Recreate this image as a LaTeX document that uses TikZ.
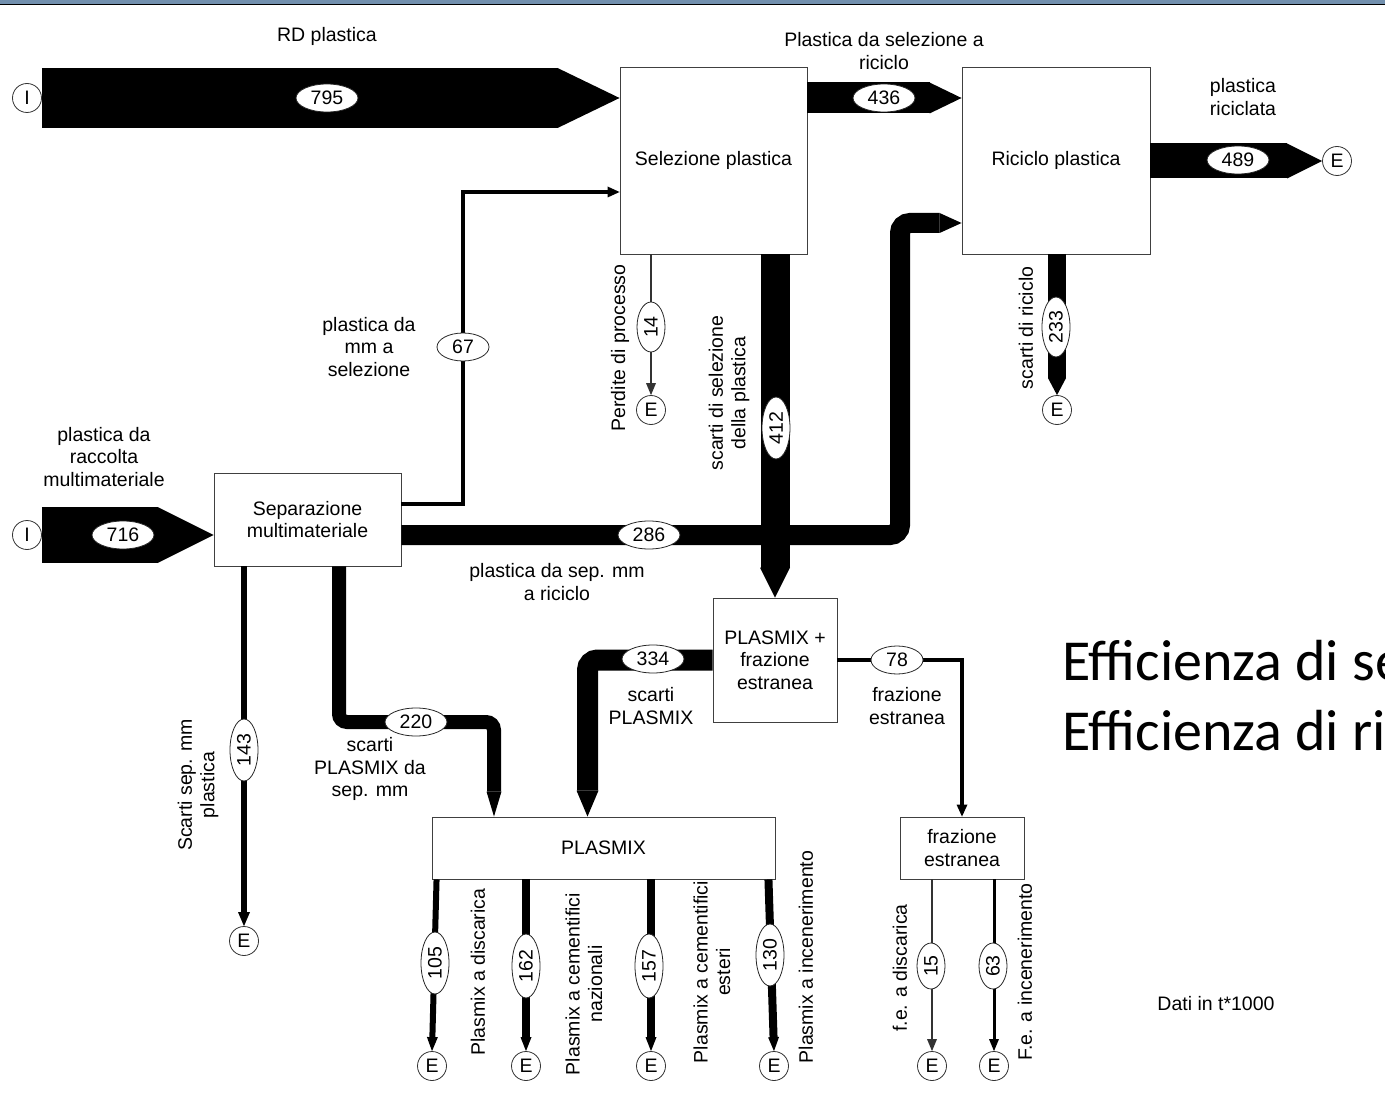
\documentclass[tikz,border=0pt]{standalone}
\usepackage{fontspec}
\setmainfont{Liberation Sans}
\newfontfamily\calibri{Carlito}
\usetikzlibrary{arrows.meta,shapes.geometric,calc}
\definecolor{barblue}{RGB}{114,144,174}
\begin{document}
\begin{tikzpicture}[x=1pt,y=-1pt,
  every node/.style={font=\fontsize{19.5}{22.5}\selectfont, align=center, inner sep=0pt},
  box/.style 2 args={draw=black!75, line width=0.9pt, fill=white, minimum width=#1, minimum height=#2},
  val/.style={ellipse, draw=black!85, line width=0.8pt, fill=white, minimum width=#1, minimum height=28pt},
  val/.default=62pt,
  vval/.style={val=#1, rotate=90},
  term/.style={circle, draw=black!80, line width=0.8pt, fill=white, minimum size=29pt},
  rl/.style={rotate=90},
  hd/.style 2 args={-{Triangle[length=#1,width=#2,line width=0pt]}},
  thinflow/.style={line width=1.2pt, draw=black!80},
  flow/.style={draw=black, line join=miter}
]
\useasboundingbox (0,0) rectangle (1385,1110);
\clip (0,0) rectangle (1385,1110);
\fill[white] (0,0) rectangle (1385,1110);
% top bar
\fill[barblue] (0,0) rectangle (1385,4);
\draw[line width=1.6pt] (0,4.6) -- (1385,4.6);

% boxes
\node[box={187pt}{187pt}] (sel) at (713.5,160.5) {Selezione plastica};
\node[box={188pt}{187pt}] (ric) at (1056,160.5) {Riciclo plastica};
\node[box={187pt}{93pt}] (sep) at (307.5,519.5) {Separazione\\multimateriale};
\node[box={124pt}{124pt}] (plus) at (775,660) {PLASMIX +\\frazione\\estranea};
\node[box={343pt}{62pt}] (pl) at (603.5,848) {PLASMIX};
\node[box={124pt}{62pt}] (fe) at (962,848) {frazione\\estranea};

% terminals
\node[term] (I1) at (27,98) {I};
\node[term] (I2) at (27,535) {I};
\node[term] (E1) at (1337,161) {E};
\node[term] (E2) at (651,410) {E};
\node[term] (E3) at (1057,410) {E};
\node[term] (E4) at (244,941) {E};
\node[term] (E5) at (432,1066) {E};
\node[term] (E6) at (526,1066) {E};
\node[term] (E7) at (651,1066) {E};
\node[term] (E8) at (774,1066) {E};
\node[term] (E9) at (932,1066) {E};
\node[term] (E10) at (994,1066) {E};

% flows
\draw[flow, line width=60pt, hd={62pt}{60pt}] (I1.east) -- (I1 -| sel.west);
\draw[flow, line width=56pt, hd={56pt}{56pt}] (I2.east) -- (I2 -| sep.west);
\draw[flow, line width=31pt, hd={32pt}{31pt}] (I1 -| sel.east) -- (I1 -| ric.west);
\draw[flow, line width=35pt, hd={35pt}{35pt}] (ric.east |- E1) -- (E1.west);
\draw[thinflow, hd={12pt}{10pt}] (E2 |- sel.south) -- (E2.north);
\draw[flow, line width=29pt, hd={30pt}{30pt}] (plus.north |- sel.south) -- (plus.north);
\draw[flow, line width=18pt, hd={17pt}{18pt}] (E3 |- ric.south) -- (E3.north);
\coordinate (k67) at (463,192);
\draw[flow, line width=3.5pt, hd={12pt}{11pt}] ([yshift=15.5pt]sep.east) -| (k67) -- (k67 -| sel.west);
\coordinate (k286) at (900,223);
\draw[flow, line width=20pt, rounded corners=10pt, hd={22pt}{20pt}] ([yshift=-15.5pt]sep.east) -| (k286) -- (k286 -| ric.west);
\draw[flow, line width=6pt, hd={14pt}{12pt}] (E4 |- sep.south) -- (E4.north);
\coordinate (k220a) at (339,722);
\coordinate (k220b) at (494,722);
\draw[flow, line width=14pt, rounded corners=8pt, hd={25pt}{15pt}] (k220a |- sep.south) -- (k220a) -- (k220b) -- (k220b |- pl.north);
\coordinate (k334) at (587.5,660);
\draw[flow, line width=21pt, rounded corners=10pt, hd={26pt}{22pt}] (plus.west) -- (k334) -- (k334 |- pl.north);
\draw[flow, line width=3.5pt, hd={12pt}{11pt}] (plus.east) -| (fe.north);
\draw[flow, line width=6pt, hd={14pt}{11pt}] ($(pl.south west)+(5,0)$) -- (E5.north);
\draw[flow, line width=8pt, hd={14pt}{11pt}] (E6 |- pl.south) -- (E6.north);
\draw[flow, line width=8pt, hd={14pt}{11pt}] (E7 |- pl.south) -- (E7.north);
\draw[flow, line width=8pt, hd={14pt}{11pt}] ($(pl.south east)+(-7,0)$) -- (E8.north);
\draw[thinflow, hd={12pt}{10pt}] (E9 |- fe.south) -- (E9.north);
\draw[flow, line width=3pt, hd={12pt}{10pt}] (E10 |- fe.south) -- (E10.north);

% values
\node[val] (v795) at (327,98) {795};
\node[val] (v436) at (884,98) {436};
\node[val] (v489) at (1238,160) {489};
\node[vval=50pt] (v14) at (651,327) {14};
\node[vval=62pt] (v412) at (776,428) {412};
\node[vval=60pt] (v233) at (1056,327) {233};
\node[val=52pt] (v67) at (463,347) {67};
\node[val] (v716) at (123,535) {716};
\node[val] (v286) at (649,535) {286};
\node[vval=62pt] (v143) at (244,750) {143};
\node[val] (v220) at (416,722) {220};
\node[val] (v334) at (653,659) {334};
\node[val=52pt] (v78) at (897,660) {78};
\node[vval=62pt] (v105) at (435,963) {105};
\node[vval=64pt] (v162) at (526,966) {162};
\node[vval=64pt] (v157) at (649,966) {157};
\node[vval=62pt] (v130) at (770,955) {130};
\node[vval=46pt] (v15) at (931,966) {15};
\node[vval=46pt] (v63) at (993,966) {63};

% labels
\node (l1) at (327,36) {RD plastica};
\node (l2) at (884,51) {Plastica da selezione a\\riciclo};
\node (l3) at (1243,97) {plastica\\riciclata};
\node (l4) at (369,347) {plastica da\\mm a\\selezione};
\node (l5) at (104,457) {plastica da\\raccolta\\multimateriale};
\node (l6) at (557,582) {plastica da sep. mm\\a riciclo};
\node (l7) at (370,769) {scarti\\PLASMIX da\\sep. mm};
\node (l8) at (651,706) {scarti\\PLASMIX};
\node (l9) at (907,706) {frazione\\estranea};
\node (l10) at (1216,1004) {Dati in t*1000};
\node[rl] (r1) at (620,348) {Perdite di processo};
\node[rl] (r2) at (729,393) {scarti di selezione\\della plastica};
\node[rl] (r3) at (1026,328) {scarti di riciclo};
\node[rl] (r4) at (198,785) {Scarti sep. mm\\plastica};
\node[rl] (r5) at (478,972) {Plasmix a discarica};
\node[rl] (r6) at (584,984) {Plasmix a cementifici\\nazionali};
\node[rl] (r7) at (712,972) {Plasmix a cementifici\\esteri};
\node[rl] (r8) at (806,957) {Plasmix a incenerimento};
\node[rl] (r9) at (900,968) {f.e. a discarica};
\node[rl] (r10) at (1025,972) {F.e. a incenerimento};

\node[anchor=base west, font=\calibri\fontsize{58}{70}\selectfont] (eff1) at (1062,680) {Efficienza di se};
\node[anchor=base west, font=\calibri\fontsize{58}{70}\selectfont] (eff2) at (1062,750) {Efficienza di ri};
\end{tikzpicture}
\end{document}
